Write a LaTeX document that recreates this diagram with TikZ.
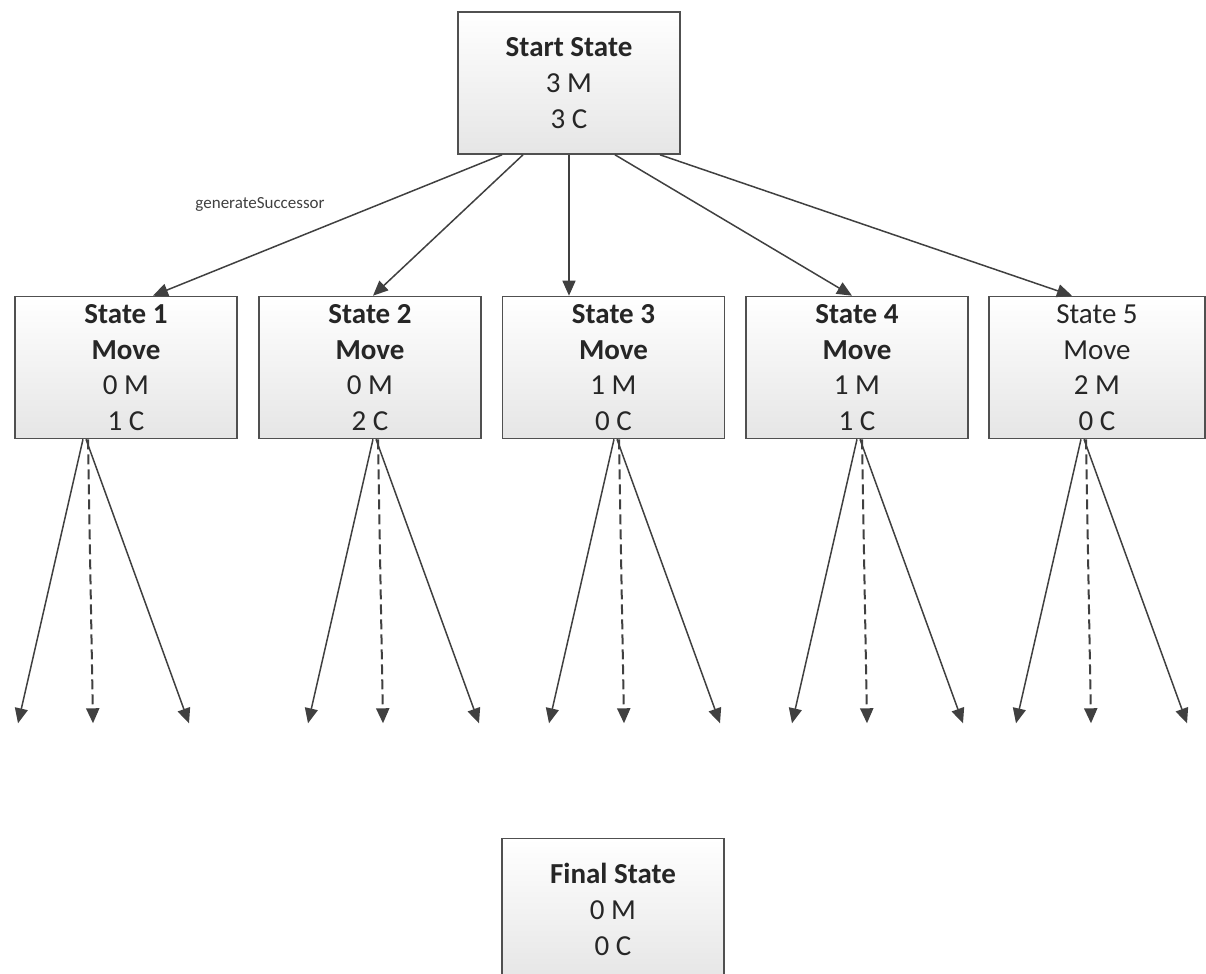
\documentclass[tikz,border=0pt]{standalone}
\usepackage{fontspec}
\setmainfont{Carlito}
\usetikzlibrary{arrows.meta}
\usetikzlibrary{calc}
\definecolor{boxline}{HTML}{505050}
\definecolor{arrowgray}{HTML}{404040}

\begin{document}
\begin{tikzpicture}
[x=0.5pt,y=-0.5pt,%
  statebox/.style={shape=rectangle,draw=boxline,line width=0.8pt,top color=white,bottom color=black!10,%
    minimum width=111pt,minimum height=71pt,inner sep=0pt,align=center,%
    font=\fontsize{14.5}{17.8}\selectfont,text=black!85},%
  succ/.style={->,>={Triangle[length=7.5pt,width=6.5pt]},draw=arrowgray,line width=0.75pt},%
  guess/.style={succ,line width=1pt,dash pattern=on 5pt off 2.5pt}]
\useasboundingbox (0,0) rectangle (1206,974);
\clip (0,0) rectangle (1206,974);
\node[statebox] (start) at (569,83) {\textbf{Start State}\\3 M\\3 C};
%%
\node[statebox] (s1) at (126,367.5) {\textbf{State 1}\\\textbf{Move}\\0 M\\1 C};
\node[statebox] (s2) at (370,367.5) {\textbf{State 2}\\\textbf{Move}\\0 M\\2 C};
\node[statebox] (s3) at (613.5,367.5) {\textbf{State 3}\\\textbf{Move}\\1 M\\0 C};
\node[statebox] (s4) at (857,367.5) {\textbf{State 4}\\\textbf{Move}\\1 M\\1 C};
\node[statebox,minimum width=108pt] (s5) at (1097,367.5) {State 5\\Move\\2 M\\0 C};
%%
\node[statebox] (final) at (613,909.5) {\textbf{Final State}\\0 M\\0 C};
%%
\node[font=\fontsize{8.5}{10}\selectfont,text=arrowgray] (genlabel) at (260,204) {generateSuccessor};
\path
\foreach \endNode/\fromX/\toX in {s1/-67/27, s2/-46/3, s3/0/-44.5, s4/46/-5, s5/91/-25}
{
  ($(start.south)+(\fromX,0)$) edge[succ] ($(\endNode.north)+(\toX,0)$)
};
\foreach \n/\o in {s1/-41, s2/5, s3/2.5, s4/2, s5/-14}
{
  \coordinate (\n-left) at ($(\n.south)+(\o-67,284)$);
  \coordinate (\n-mid) at ($(\n.south)+(\o+8,284)$);
  \coordinate (\n-right) at ($(\n.south)+(\o+104,284)$);
  \draw[succ] ($(\n.south)+(\o-2,0)$) -- (\n-left);
  \draw[guess] ($(\n.south)+(\o+3,0)$) -- (\n-mid);
  \draw[succ] ($(\n.south)+(\o+1,0)$) -- (\n-right);
}
\end{tikzpicture}
\end{document}
